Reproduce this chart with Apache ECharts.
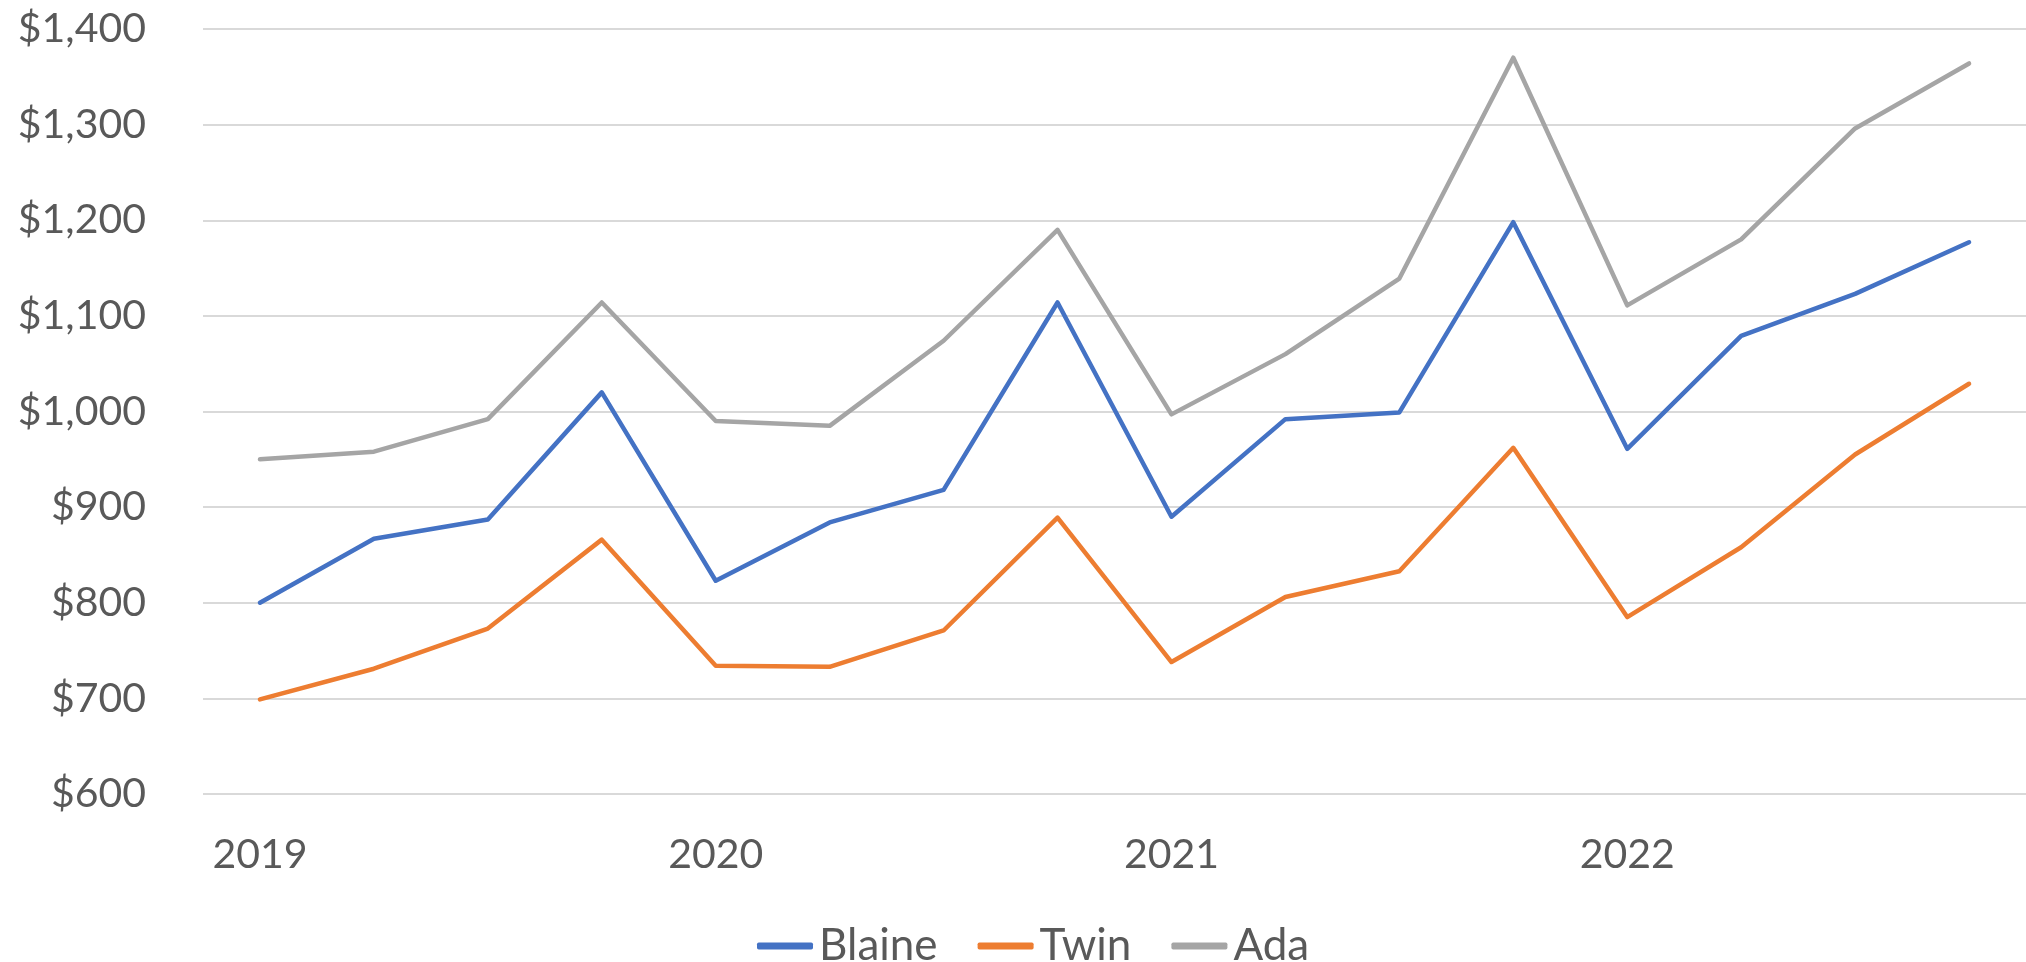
<!DOCTYPE html>
<html>
<head>
<meta charset="utf-8">
<script src="https://cdn.jsdelivr.net/npm/echarts@6/dist/echarts.min.js"></script>
<style>
  html, body { margin: 0; padding: 0; background: #fff; }
  #chart { width: 2026px; height: 962px; }
</style>
</head>
<body>
<div id="chart"></div>
<script>
// quarters, 2019 Q1 .. 2022 Q4
const quarters = [
  '2019 Q1', '2019 Q2', '2019 Q3', '2019 Q4',
  '2020 Q1', '2020 Q2', '2020 Q3', '2020 Q4',
  '2021 Q1', '2021 Q2', '2021 Q3', '2021 Q4',
  '2022 Q1', '2022 Q2', '2022 Q3', '2022 Q4'
];
const blaine = [800, 867, 887, 1020, 823, 884, 918, 1114, 890, 992, 999, 1198, 961, 1079, 1123, 1177];
const twin = [699, 731, 773, 866, 734, 733, 771, 889, 738, 806, 833, 962, 785, 858, 955, 1029];
const ada = [950, 958, 992, 1114, 990, 985, 1074, 1190, 997, 1060, 1139, 1370, 1111, 1180, 1296, 1364];

const textColor = '#595959';
const font = 'Lato';

const money = v => '$' + String(v).replace(/\B(?=(\d{3})+(?!\d))/g, ',');

const line = (name, data, color) => ({
  name: name,
  type: 'line',
  data: data,
  symbol: 'none',
  smooth: false,
  itemStyle: { color: color },
  lineStyle: { color: color, width: 4.5, cap: 'round', join: 'round' }
});

const myChart = echarts.init(document.getElementById('chart'), null, { renderer: 'canvas' });
myChart.setOption({
  animation: false,
  textStyle: { fontFamily: font },
  grid: { left: 203, right: -6, top: 29, bottom: 168, containLabel: false },
  xAxis: {
    type: 'category',
    data: quarters,
    boundaryGap: true,
    axisLine: { show: false },
    axisTick: { show: false },
    axisLabel: {
      interval: 3,
      margin: 40,
      color: textColor,
      fontSize: 41,
      fontFamily: font,
      formatter: v => v.split(' ')[0]
    }
  },
  yAxis: {
    type: 'value',
    min: 600,
    max: 1400,
    interval: 100,
    axisLine: { show: false },
    axisTick: { show: false },
    splitLine: { lineStyle: { color: '#D9D9D9', width: 2 } },
    axisLabel: {
      margin: 57,
      color: textColor,
      fontSize: 41,
      fontFamily: font,
      formatter: money
    }
  },
  legend: {
    left: 752,
    top: 919,
    icon: 'roundRect',
    itemWidth: 56,
    itemHeight: 7,
    itemGap: 40,
    textStyle: { color: textColor, fontSize: 44, fontFamily: font, padding: [0, 0, 0, 1] },
    data: ['Blaine', 'Twin', 'Ada']
  },
  series: [
    line('Blaine', blaine, '#4472C4'),
    line('Twin', twin, '#ED7D31'),
    line('Ada', ada, '#A5A5A5')
  ]
});
</script>
</body>
</html>
